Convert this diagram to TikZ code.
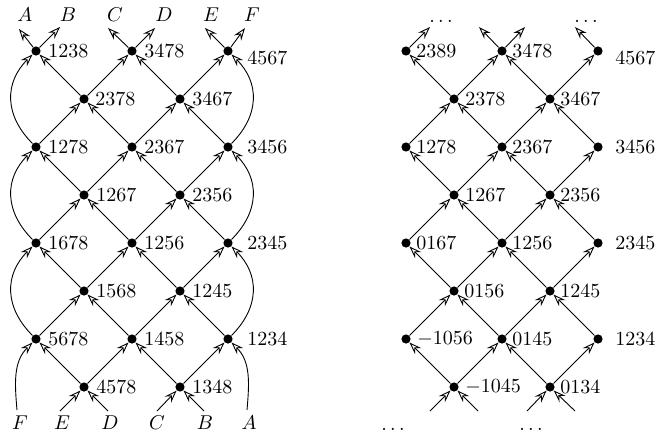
\documentclass[tikz,border=0pt]{standalone}
\usetikzlibrary{arrows.meta}
\begin{document}
\begin{tikzpicture}[x=0.5pt,y=0.5pt,
  vtx/.style={circle,fill=black,inner sep=0pt,minimum size=4.6pt},
  lab/.style={inner sep=0pt,anchor=west},
  tlab/.style={inner sep=0pt},
  arr/.style={line width=0.45pt,-{Stealth[open,length=6.2pt,width=4.4pt,inset=2.2pt,line width=0.45pt]}},
  crv/.style={arr,looseness=1.15}]
\path[use as bounding box] (0,0) rectangle (660,-434);
% ---------- left diagram ----------
\foreach \n/\x/\y/\t/\d in {
  L1238/36/51/1238/12, L3478/132/51/3478/12,
  L2378/84/99/2378/11, L3467/180/99/3467/12,
  L1278/36/147/1278/12, L2367/132/147/2367/12, L3456/228/147/3456/19,
  L1267/84/195/1267/12, L2356/180/195/2356/12,
  L1678/36/243/1678/12, L1256/132/243/1256/12, L2345/228/243/2345/19,
  L1568/84/291/1568/12, L1245/180/291/1245/12,
  L5678/36/339/5678/12, L1458/132/339/1458/12, L1234/228/339/1234/19,
  L4578/84/387/4578/12, L1348/180/387/1348/12}
{
  \node[vtx] (\n) at (\x,-\y) {};
  \node[lab] (\n t) at ({\x+\d},-\y) {$\t$};
}
\node[vtx] (L4567) at (228,-51) {};
\node[lab] (L4567t) at (247,-58) {$4567$};
% diagonal edges
\foreach \a/\b in {
  L2378/L1238, L2378/L3478, L3467/L3478, L3467/L4567,
  L1278/L2378, L2367/L2378, L2367/L3467, L3456/L3467,
  L1267/L1278, L1267/L2367, L2356/L2367, L2356/L3456,
  L1678/L1267, L1256/L1267, L1256/L2356, L2345/L2356,
  L1568/L1678, L1568/L1256, L1245/L1256, L1245/L2345,
  L5678/L1568, L1458/L1568, L1458/L1245, L1234/L1245,
  L4578/L5678, L4578/L1458, L1348/L1458, L1348/L1234}
  \draw[arr] (\a) -- (\b);
% curves
\draw[crv] (L1278) to[out=135,in=225] (L1238);
\draw[crv] (L1678) to[out=135,in=225] (L1278);
\draw[crv] (L5678) to[out=135,in=225] (L1678);
\draw[crv] (L3456) to[out=45,in=-45] (L4567);
\draw[crv] (L2345) to[out=45,in=-45] (L3456);
\draw[crv] (L1234) to[out=45,in=-45] (L2345);
\coordinate (cF) at (17,-410);
\coordinate (cA) at (247,-410);
\draw[arr] (cF) to[out=95,in=225] (L5678);
\draw[arr] (cA) to[out=85,in=-45] (L1234);
% bottom incoming
\coordinate (bE) at (60,-411);
\coordinate (bD) at (108,-411);
\coordinate (bC) at (157,-411);
\coordinate (bB) at (204,-411);
\draw[arr] (bE) -- (L4578);
\draw[arr] (bD) -- (L4578);
\draw[arr] (bC) -- (L1348);
\draw[arr] (bB) -- (L1348);
% top outgoing
\coordinate (tA) at (19,-29);
\coordinate (tB) at (60,-27);
\coordinate (tC) at (108,-28);
\coordinate (tD) at (155,-28);
\coordinate (tE) at (205,-28);
\coordinate (tF) at (245,-28);
\draw[arr] (L1238) -- (tA);
\draw[arr] (L1238) -- (tB);
\draw[arr] (L3478) -- (tC);
\draw[arr] (L3478) -- (tD);
\draw[arr] (L4567) -- (tE);
\draw[arr] (L4567) -- (tF);
% letters
\foreach \n/\x/\t in {uA/25/A, uB/68/B, uC/115/C, uD/164/D, uE/211/E, uF/252/F}
  \node[tlab] (\n) at (\x,-15) {$\t$};
\foreach \n/\x/\t in {dF/20/F, dE/62/E, dD/110/D, dC/157/C, dB/205/B, dA/249/A}
  \node[tlab] (\n) at (\x,-423) {$\t$};
% ---------- right diagram ----------
\foreach \n/\x/\y/\t/\d in {
  R2389/406/51/2389/10, R3478/502/51/3478/10,
  R2378/454/99/2378/11, R3467/550/99/3467/10,
  R1278/406/147/1278/10, R2367/502/147/2367/10, R3456/598/147/3456/17,
  R1267/454/195/1267/11, R2356/550/195/2356/10,
  R0167/406/243/0167/10, R1256/502/243/1256/10, R2345/598/243/2345/17,
  R0156/454/291/0156/10, R1245/550/291/1245/10,
  Rm1056/406/339/-1056/11, R0145/502/339/0145/10, R1234/598/339/1234/17,
  Rm1045/454/387/-1045/11, R0134/550/387/0134/10}
{
  \node[vtx] (\n) at (\x,-\y) {};
  \node[lab] (\n t) at ({\x+\d},-\y) {$\t$};
}
\node[vtx] (R4567) at (598,-51) {};
\node[lab] (R4567t) at (615,-58) {$4567$};
\foreach \a/\b in {
  R2378/R2389, R2378/R3478, R3467/R3478, R3467/R4567,
  R1278/R2378, R2367/R2378, R2367/R3467, R3456/R3467,
  R1267/R1278, R1267/R2367, R2356/R2367, R2356/R3456,
  R0167/R1267, R1256/R1267, R1256/R2356, R2345/R2356,
  R0156/R0167, R0156/R1256, R1245/R1256, R1245/R2345,
  Rm1056/R0156, R0145/R0156, R0145/R1245, R1234/R1245,
  Rm1045/Rm1056, Rm1045/R0145, R0134/R0145, R0134/R1234}
  \draw[arr] (\a) -- (\b);
\coordinate (rt1) at (430,-27);
\coordinate (rt2) at (479,-27);
\coordinate (rt3) at (525,-27);
\coordinate (rt4) at (575,-27);
\draw[arr] (R2389) -- (rt1);
\draw[arr] (R3478) -- (rt2);
\draw[arr] (R3478) -- (rt3);
\draw[arr] (R4567) -- (rt4);
\coordinate (rb1) at (430,-411);
\coordinate (rb2) at (478,-411);
\coordinate (rb3) at (527,-411);
\coordinate (rb4) at (575,-411);
\draw[arr] (rb1) -- (Rm1045);
\draw[arr] (rb2) -- (Rm1045);
\draw[arr] (rb3) -- (R0134);
\draw[arr] (rb4) -- (R0134);
\node[tlab,anchor=base] (rdt1) at (441,-22) {$\ldots$};
\node[tlab,anchor=base] (rdt2) at (586,-22) {$\ldots$};
\node[tlab,anchor=base] (rdb1) at (393,-430) {$\ldots$};
\node[tlab,anchor=base] (rdb2) at (531,-430) {$\ldots$};
\end{tikzpicture}
\end{document}
